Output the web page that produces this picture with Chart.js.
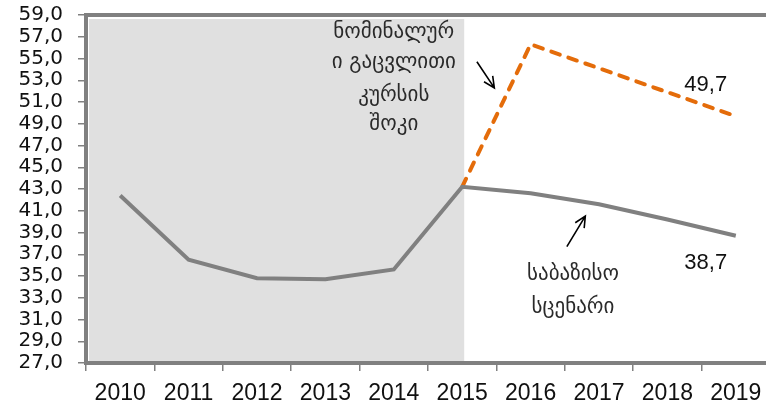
<!DOCTYPE html>
<html>
<head>
<meta charset="utf-8">
<script src="https://cdn.jsdelivr.net/npm/chart.js@4.4.1/dist/chart.umd.min.js"></script>
<style>
  html, body { margin: 0; padding: 0; background: #fff; overflow: hidden; }
  #wrap { width: 770px; height: 412px; }
</style>
</head>
<body>
<div id="wrap"><canvas id="chart" width="770" height="412"></canvas></div>
<script>
// ── data ────────────────────────────────────────────
const years    = ['2010', '2011', '2012', '2013', '2014', '2015', '2016', '2017', '2018', '2019'];
const baseline = [42.4, 36.5, 34.8, 34.7, 35.6, 43.2, 42.6, 41.6, 40.2, 38.7];
const shock    = [null, null, null, null, null, 43.2, 56.3, 54.1, 51.9, 49.7];
const yMin = 27, yMax = 59, yStep = 2;
const shadeUntil = 5; // history shaded up to 2015

// annotations, placed in data units (category index, value)
const shockNote = ['ნომინალურ', 'ი გაცვლითი', 'კურსის', 'შოკი'];
const baseNote  = ['საბაზისო', 'სცენარი'];

const GRAY = '#808080';
const ORANGE = '#E46C0A';

const fmt = v => v.toFixed(1).replace('.', ',');

// ── plugins ─────────────────────────────────────────
const shade = {
    id: 'shade',
    beforeDatasetsDraw(chart) {
        const { ctx, chartArea: a, scales: { x } } = chart;
        const xe = x.getPixelForValue(shadeUntil) + 2;
        ctx.save();
        ctx.fillStyle = '#e0e0e0';
        ctx.fillRect(a.left + 3, a.top + 4, xe - a.left - 3, a.bottom - a.top - 6);
        // top frame line
        ctx.strokeStyle = GRAY;
        ctx.lineWidth = 4;
        ctx.beginPath();
        ctx.moveTo(a.left - 2, a.top);
        ctx.lineTo(a.right, a.top);
        ctx.stroke();
        ctx.restore();
    }
};

function arrow(ctx, x1, y1, x2, y2) {
    const ang = Math.atan2(y2 - y1, x2 - x1);
    const h = 12, spread = 0.45;
    ctx.beginPath();
    ctx.moveTo(x1, y1);
    ctx.lineTo(x2, y2);
    ctx.moveTo(x2 - h * Math.cos(ang - spread), y2 - h * Math.sin(ang - spread));
    ctx.lineTo(x2, y2);
    ctx.lineTo(x2 - h * Math.cos(ang + spread), y2 - h * Math.sin(ang + spread));
    ctx.stroke();
}

const notes = {
    id: 'notes',
    afterDatasetsDraw(chart) {
        const { ctx, scales: { x, y } } = chart;
        ctx.save();
        ctx.textAlign = 'center';
        ctx.textBaseline = 'middle';

        // georgian captions
        ctx.fillStyle = '#2a2a2a';
        ctx.font = '21px "DejaVu Sans"';
        const px = i => x.getPixelForValue(0) + (x.getPixelForValue(1) - x.getPixelForValue(0)) * i;
        [57.4, 54.6, 51.6, 48.9].forEach((v, i) => ctx.fillText(shockNote[i], px(4.0), y.getPixelForValue(v)));
        [35.1, 32.1].forEach((v, i) => ctx.fillText(baseNote[i], px(6.62), y.getPixelForValue(v)));

        // end values
        ctx.fillStyle = '#111';
        ctx.font = '22px "Liberation Sans"';
        ctx.fillText(fmt(shock[9]), px(8.56), y.getPixelForValue(52.6));
        ctx.fillText(fmt(baseline[9]), px(8.56), y.getPixelForValue(36.2));

        // arrows
        ctx.strokeStyle = '#000';
        ctx.lineWidth = 1.6;
        arrow(ctx, px(5.215), y.getPixelForValue(54.7), px(5.47), y.getPixelForValue(52.3));
        arrow(ctx, px(6.53), y.getPixelForValue(37.7), px(6.80), y.getPixelForValue(40.5));
        ctx.restore();
    }
};

// ── chart ───────────────────────────────────────────
new Chart(document.getElementById('chart'), {
    type: 'line',
    data: {
        labels: years,
        datasets: [
            {
                label: 'baseline',
                data: baseline,
                borderColor: GRAY,
                borderWidth: 4,
                pointRadius: 0,
                tension: 0
            },
            {
                label: 'shock',
                data: shock,
                borderColor: ORANGE,
                borderWidth: 4,
                borderDash: [9, 9],
                borderCapStyle: 'round',
                pointRadius: 0,
                tension: 0
            }
        ]
    },
    options: {
        responsive: false,
        animation: false,
        devicePixelRatio: 1,
        layout: { padding: { top: 15, right: 0, left: 0, bottom: 0 } },
        plugins: { legend: { display: false }, tooltip: { enabled: false } },
        scales: {
            x: {
                offset: true,
                grid: { offset: true, drawOnChartArea: false, tickLength: 8, color: GRAY, lineWidth: 1.5 },
                border: { display: true, color: GRAY, width: 4 },
                ticks: { color: '#111', font: { family: 'Liberation Sans', size: 23 }, padding: 9, maxRotation: 0, autoSkip: false },
                afterFit: s => { s.height = 49; s.paddingLeft = 0; s.paddingRight = 0; }
            },
            y: {
                min: yMin,
                max: yMax,
                grid: { drawOnChartArea: false, tickLength: 8, color: GRAY, lineWidth: 1.5 },
                border: { display: true, color: GRAY, width: 4 },
                ticks: {
                    stepSize: yStep,
                    autoSkip: false,
                    color: '#111',
                    font: { family: 'DejaVu Sans', size: 20 },
                    padding: 15,
                    callback: v => fmt(v)
                },
                afterFit: s => { s.width = 86; s.paddingTop = 0; s.paddingBottom = 0; }
            }
        }
    },
    plugins: [shade, notes]
});
</script>
</body>
</html>
